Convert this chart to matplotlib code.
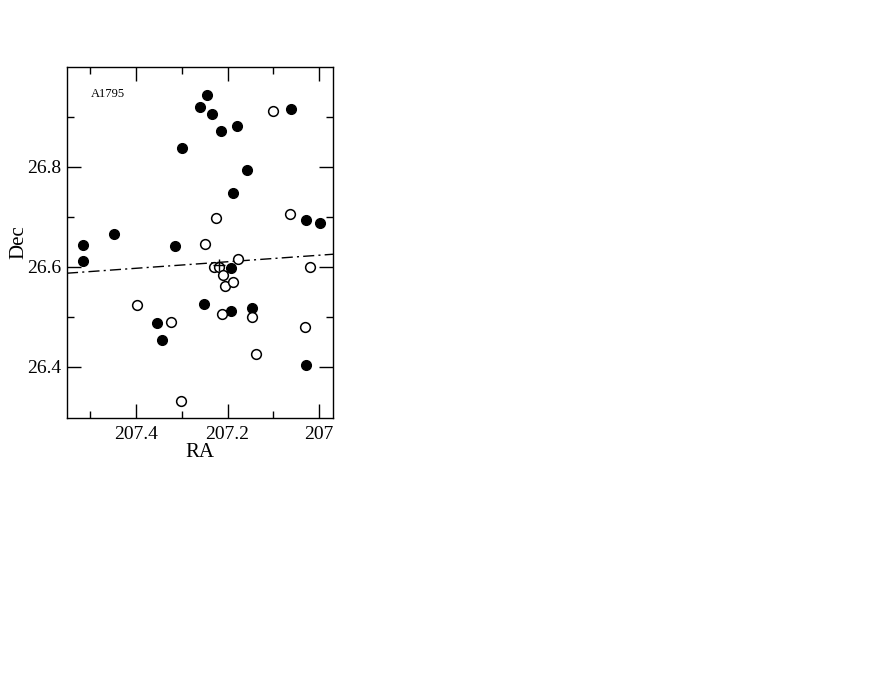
import matplotlib.pyplot as plt
from matplotlib.ticker import MultipleLocator

plt.rcParams["font.family"] = ["Liberation Serif", "DejaVu Serif"]

# filled symbols
ra_filled = [207.245, 207.261, 207.234, 207.215, 207.180, 207.062, 207.299,
             207.157, 207.189, 207.029, 206.998, 207.447, 207.515, 207.516,
             207.315, 207.193, 207.251, 207.354, 207.342, 207.192, 207.146,
             207.029]
dec_filled = [26.943, 26.920, 26.905, 26.871, 26.881, 26.915, 26.837,
              26.793, 26.747, 26.693, 26.687, 26.665, 26.644, 26.611,
              26.641, 26.597, 26.525, 26.488, 26.454, 26.511, 26.518,
              26.403]

# open symbols
ra_open = [207.101, 207.226, 207.064, 207.250, 207.177, 207.229, 207.219,
           207.210, 207.206, 207.188, 207.020, 207.397, 207.324, 207.213,
           207.147, 207.032, 207.138, 207.302]
dec_open = [26.911, 26.697, 26.705, 26.645, 26.616, 26.600, 26.600,
            26.584, 26.561, 26.569, 26.600, 26.523, 26.490, 26.506,
            26.500, 26.480, 26.425, 26.332]

# cluster centre and fitted axis
ra_centre, dec_centre = 207.219, 26.604
ra_line = [207.55, 206.97]
dec_line = [26.587, 26.625]

fig = plt.figure(figsize=(8.72, 6.74), dpi=100)
ax = fig.add_axes([0.0768, 0.3798, 0.3051, 0.5208])

ax.plot(ra_line, dec_line, color="black", lw=1.0, ls=(0, (8, 3, 1.5, 3)))
ax.plot(ra_filled, dec_filled, "o", color="black", ms=7)
ax.plot(ra_open, dec_open, "o", mfc="white", mec="black", mew=1.1, ms=7)
ax.plot(ra_centre, dec_centre, "+", color="black", ms=9, mew=1.0)

ax.set_xlim(207.55, 206.97)
ax.set_ylim(26.297, 27.0)
ax.set_xticks([207.4, 207.2, 207.0])
ax.set_xticklabels(["207.4", "207.2", "207"])
ax.set_xticks([207.5, 207.3, 207.1], minor=True)
ax.set_yticks([26.4, 26.6, 26.8])
ax.set_yticklabels(["26.4", "26.6", "26.8"])
ax.set_yticks([26.5, 26.7, 26.9], minor=True)
ax.tick_params(which="both", direction="in", top=True, right=True,
               labelsize=14, width=1.0)
ax.tick_params(which="major", length=10)
ax.tick_params(axis="y", which="major", pad=4)
ax.tick_params(axis="x", which="major", pad=6)
ax.tick_params(which="minor", length=5)
for s in ax.spines.values():
    s.set_linewidth(1.0)

ax.set_xlabel("RA", fontsize=15, labelpad=0)
ax.set_ylabel("Dec", fontsize=15, labelpad=-1)
ax.text(0.09, 0.915, "A1795", transform=ax.transAxes, fontsize=9)

fig.savefig("out.png", dpi=100)
